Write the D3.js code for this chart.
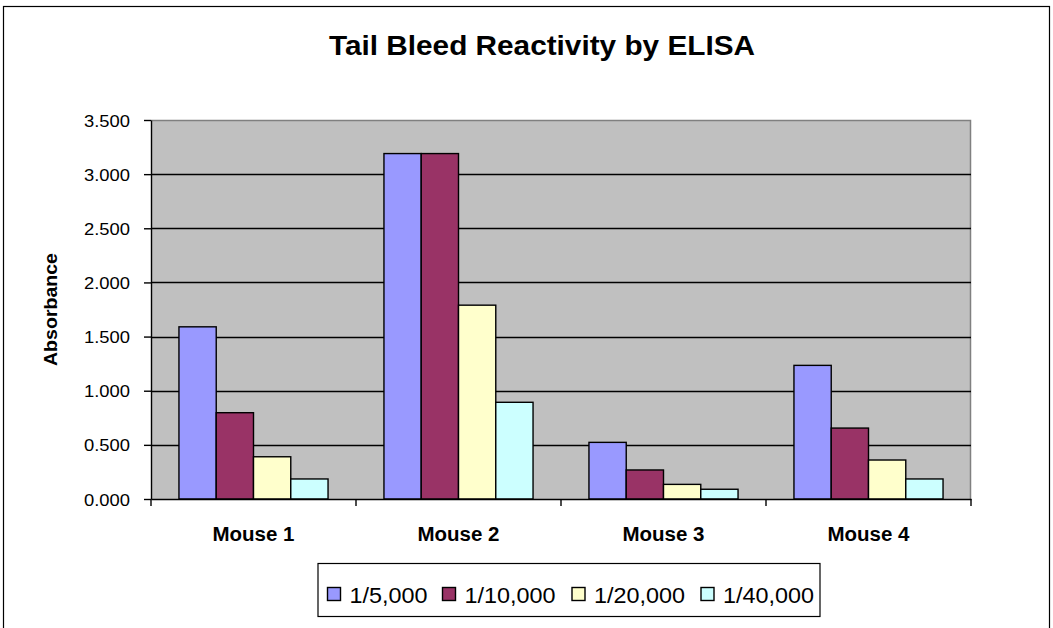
<!DOCTYPE html>
<html><head><meta charset="utf-8">
<script src="https://cdn.jsdelivr.net/npm/d3@7"></script>
<style>body{margin:0;background:#fff}svg{display:block;font-family:"Liberation Sans",Arial,sans-serif}</style>
</head><body><svg id="c" width="1053" height="628"></svg>
<script>
const categories = ["Mouse 1","Mouse 2","Mouse 3","Mouse 4"];
const seriesNames = ["1/5,000","1/10,000","1/20,000","1/40,000"];
const s1 = [1.59, 3.19, 0.523, 1.234];
const s2 = [0.797, 3.19, 0.268, 0.655];
const s3 = [0.39, 1.79, 0.135, 0.36];
const s4 = [0.185, 0.893, 0.09, 0.185];
const yTicks = [0,0.5,1,1.5,2,2.5,3,3.5];
const colors = ["#9999FF","#993366","#FFFFCC","#CCFFFF"];
const series = [s1,s2,s3,s4];

const svg = d3.select("#c");
const L=151, R=971, T=120, B=499;
svg.append("rect").attr("x",3.5).attr("y",6.5).attr("width",1046).attr("height",640).attr("fill","#fff").attr("stroke","#000").attr("stroke-width",1.2);

svg.append("text").attr("x",329).attr("y",55).attr("font-size",28).attr("font-weight","bold")
  .attr("textLength",426).attr("lengthAdjust","spacingAndGlyphs").text("Tail Bleed Reactivity by ELISA");

const x = d3.scaleBand().domain(categories).range([L,R]).paddingInner(0).paddingOuter(0);
const x1 = d3.scaleBand().domain(d3.range(4)).range([0,x.bandwidth()]).paddingInner(0).paddingOuter(0.75);
const y = d3.scaleLinear().domain([0,3.5]).range([B,T]);

svg.append("rect").attr("x",L).attr("y",T).attr("width",R-L).attr("height",B-T).attr("fill","#C0C0C0");
svg.append("path").attr("d",`M${L},${T+0.5}H${R-0.5}V${B}`).attr("fill","none").attr("stroke","#808080").attr("stroke-width",1.5);
svg.append("g").selectAll("line").data(yTicks.filter(d=>d>0&&d<3.5)).join("line")
  .attr("x1",L).attr("x2",R).attr("y1",d=>Math.round(y(d))+0.5).attr("y2",d=>Math.round(y(d))+0.5).attr("stroke","#000").attr("stroke-width",1.4);

const g = svg.append("g");
categories.forEach((c,i)=>{
  series.forEach((s,j)=>{
    g.append("rect").attr("x",x(c)+x1(j)).attr("y",y(s[i])).attr("width",x1.bandwidth()).attr("height",B-y(s[i]))
      .attr("fill",colors[j]).attr("stroke","#000").attr("stroke-width",1.4);
  });
});

const yAxis = svg.append("g").attr("transform",`translate(${L},0)`).call(d3.axisLeft(y).tickValues(yTicks).tickFormat(d3.format(".3f")).tickSize(7).tickSizeOuter(0));
yAxis.select(".domain").attr("stroke","#000").attr("stroke-width",1.4);
yAxis.selectAll("line").attr("stroke","#000").attr("stroke-width",1.4);
yAxis.selectAll("text").attr("font-size",17).attr("font-family","Liberation Sans, Arial").attr("fill","#000")
  .attr("x",-67).attr("dy","0.36em").attr("text-anchor","start").attr("textLength",46).attr("lengthAdjust","spacingAndGlyphs");

const xAxis = svg.append("g").attr("transform",`translate(0,${B})`).call(d3.axisBottom(x).tickValues([]).tickSizeOuter(0));
xAxis.select(".domain").attr("stroke","#000").attr("stroke-width",1.4);
const bounds = categories.map(c=>x(c)).concat([R]);
svg.append("g").selectAll("line").data(bounds).join("line").attr("x1",d=>d).attr("x2",d=>d).attr("y1",B).attr("y2",B+7).attr("stroke","#000").attr("stroke-width",1.4);
svg.append("g").selectAll("text").data(categories).join("text").attr("x",d=>x(d)+x.bandwidth()/2-41).attr("y",541)
  .attr("font-size",20).attr("font-weight","bold").attr("textLength",82).attr("lengthAdjust","spacingAndGlyphs").text(d=>d);

svg.append("text").attr("transform","translate(57,366) rotate(-90)").attr("font-size",18).attr("font-weight","bold")
  .attr("textLength",113).attr("lengthAdjust","spacingAndGlyphs").text("Absorbance");

const lg = svg.append("g");
lg.append("rect").attr("x",318).attr("y",563.5).attr("width",502).attr("height",53).attr("fill","#fff").attr("stroke","#000").attr("stroke-width",1.2);
const lx = [327.5,442.5,572,701];
const tl = [78,91,91,91];
seriesNames.forEach((n,j)=>{
  lg.append("rect").attr("x",lx[j]).attr("y",587.5).attr("width",13).attr("height",13).attr("fill",colors[j]).attr("stroke","#000").attr("stroke-width",1.4);
  lg.append("text").attr("x",lx[j]+22).attr("y",602.5).attr("font-size",22).attr("textLength",tl[j]).attr("lengthAdjust","spacingAndGlyphs").text(n);
});
</script></body></html>
